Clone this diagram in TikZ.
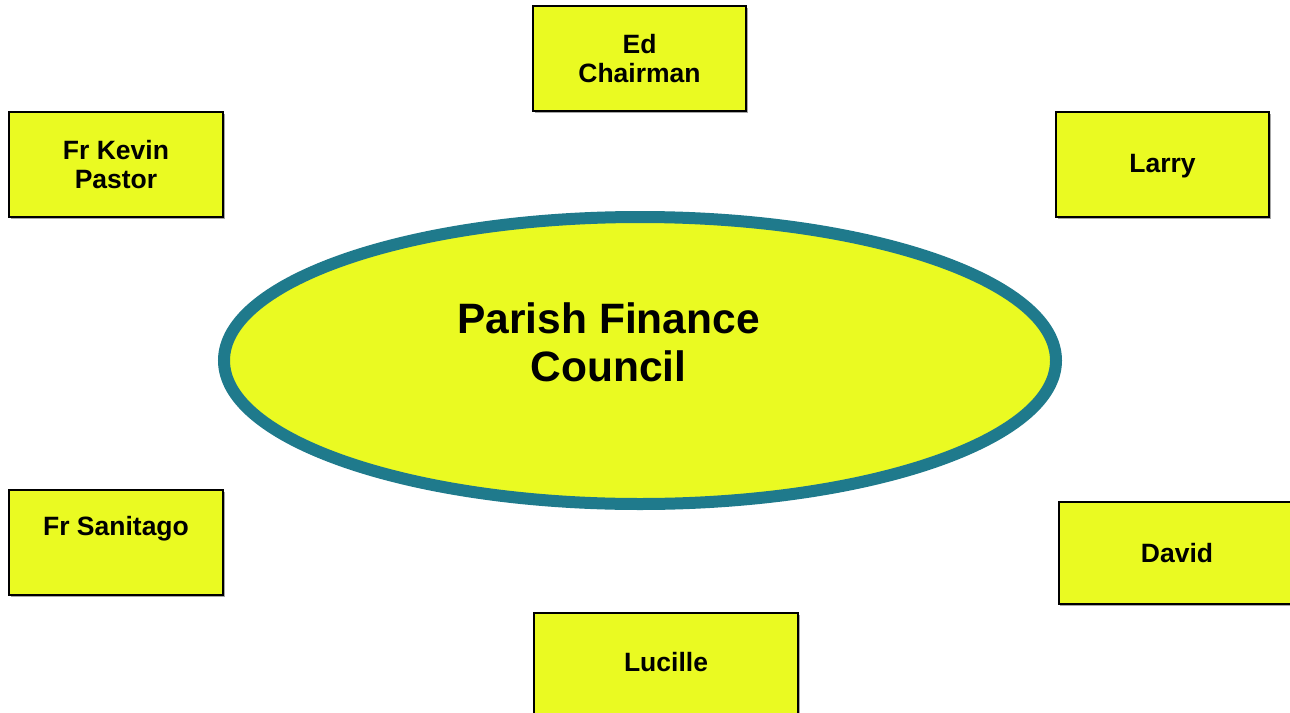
\documentclass[tikz,border=0pt]{standalone}
\usepackage{fontspec}
\setmainfont{Liberation Sans}
\usetikzlibrary{shapes.geometric}
\definecolor{boxyellow}{RGB}{234,250,34}
\definecolor{rimteal}{RGB}{31,122,140}
\tikzset{
  member/.style={draw=black, line width=2pt, fill=boxyellow, rectangle, inner sep=0pt,
    align=center, font=\bfseries\fontsize{26.5}{28.5}\selectfont},
  boxshade/.style={fill=black!35, draw=none},
  membertext/.style={font=\bfseries\fontsize{26.5}{28.5}\selectfont, align=center, inner sep=0pt},
  bigtext/.style={font=\bfseries\fontsize{42.5}{48}\selectfont, align=center, inner sep=0pt}
}
\begin{document}
\begin{tikzpicture}[x=1pt,y=-1pt]
\clip (0,0) rectangle (1290,712);
\fill[white] (0,0) rectangle (1290,712);
% shadows
\fill[boxshade] (535,8) rectangle (748,113);
\fill[boxshade] (1058,114) rectangle (1271,219);
\fill[boxshade] (11,114) rectangle (225,219);
\fill[boxshade] (11,492) rectangle (225,597);
\fill[boxshade] (1060,504) rectangle (1295,606);
\fill[boxshade] (536,615) rectangle (800,720);
% boxes
\node[member, minimum width=213, minimum height=105] (ed) at (639.5,58.5) {Ed\\Chairman};
\node[member, minimum width=213, minimum height=105] (larrybox) at (1162.5,164.5) {};
\node[membertext] (larry) at (1162.5,166) {Larry};
\node[member, minimum width=214, minimum height=105] (kevin) at (116,164.5) {Fr Kevin\\Pastor};
\node[member, minimum width=214, minimum height=105] (sanbox) at (116,542.5) {};
\node[membertext] (santiago) at (116,529) {Fr Sanitago};
\node[member, minimum width=236, minimum height=102] (david) at (1177,553) {David};
\node[member, minimum width=264, minimum height=105] (lucbox) at (666,665.5) {};
\node[membertext] (lucille) at (666,662.5) {Lucille};
% ellipse
\node[ellipse, draw=rimteal, line width=12pt, fill=boxyellow, minimum width=832, minimum height=287, inner sep=0pt] (pfc) at (640,360.5) {};
\node[bigtext] (pfctext) at (608.5,342) {Parish Finance\\Council};
\end{tikzpicture}
\end{document}
